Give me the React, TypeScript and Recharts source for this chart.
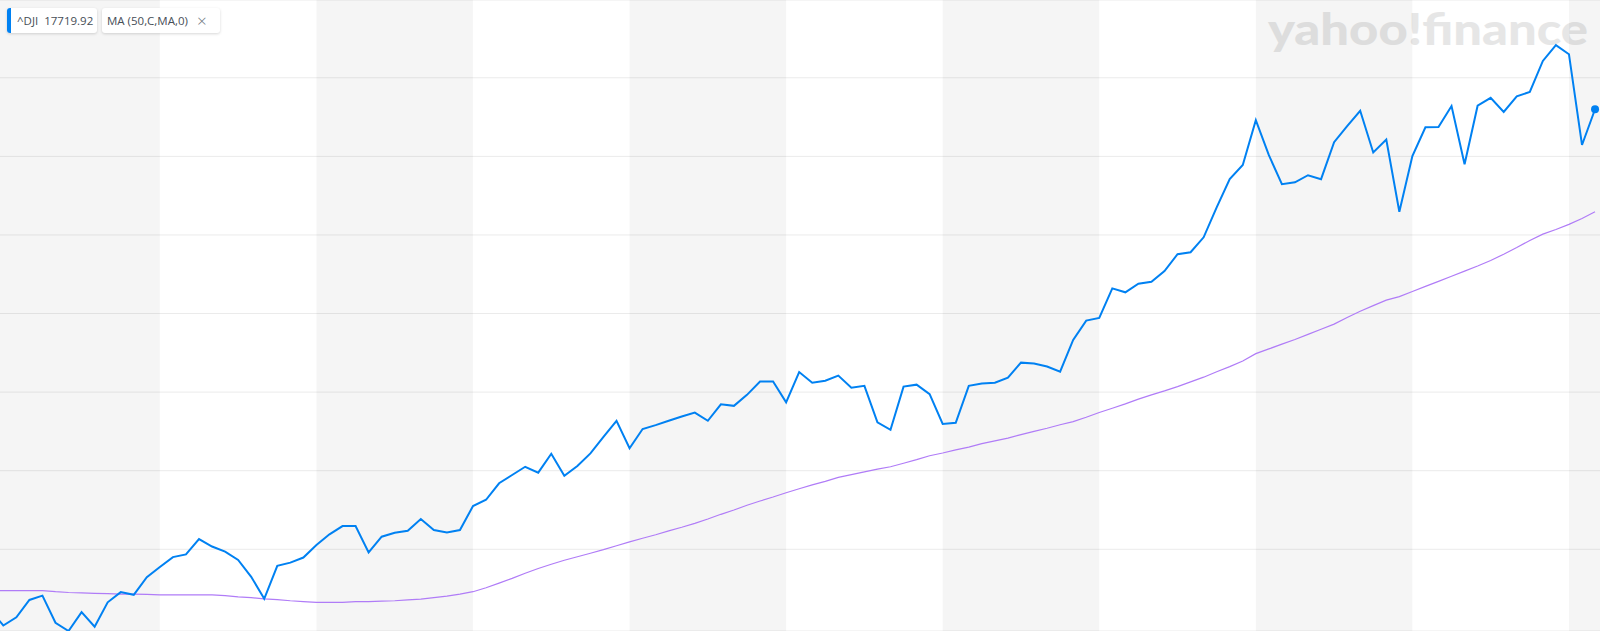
import React from 'react';
import { CartesianGrid, Customized, Line, LineChart, ReferenceArea, XAxis, YAxis } from 'recharts';

// ^DJI closes, one per bar (index 0 sits just left of the visible area)
const djiClose = [
  16446, 16406, 16427, 16471, 16482, 16413, 16392, 16440, 16403, 16465,
  16491, 16484, 16529, 16555, 16580, 16587, 16626, 16607, 16594, 16573,
  16530, 16474, 16558, 16566, 16579, 16611, 16638, 16659, 16659, 16592,
  16632, 16642, 16647, 16677, 16649, 16643, 16649, 16710, 16726, 16768,
  16789, 16810, 16795, 16843, 16787, 16812, 16844, 16886, 16927, 16857,
  16906, 16916, 16927, 16938, 16948, 16927, 16969, 16965, 16993, 17027,
  17027, 16974, 17051, 17024, 17029, 17042, 17011, 17016, 16923, 16904,
  17014, 17019, 16995, 16919, 16922, 17016, 17022, 17024, 17037, 17075,
  17073, 17065, 17052, 17133, 17182, 17189, 17264, 17254, 17276, 17281,
  17308, 17351, 17356, 17394, 17470, 17542, 17578, 17692, 17603, 17529,
  17534, 17552, 17542, 17636, 17677, 17716, 17610, 17643, 17459, 17601,
  17674, 17675, 17728, 17580, 17729, 17749, 17713, 17753, 17764, 17843,
  17883, 17860, 17629, 17719.92,
];

// MA (50,C,MA,0)
const ma50 = [
  16495, 16495, 16495, 16495, 16495, 16492, 16490, 16489, 16488, 16487,
  16486, 16486, 16485, 16484, 16484, 16484, 16484, 16484, 16482, 16479,
  16477, 16474, 16472, 16469, 16467, 16465, 16465, 16465, 16467, 16467,
  16468, 16469, 16471, 16473, 16477, 16481, 16486, 16492, 16502, 16514,
  16526, 16539, 16551, 16562, 16572, 16581, 16590, 16599, 16609, 16619,
  16628, 16637, 16647, 16656, 16666, 16677, 16689, 16700, 16712, 16723,
  16733, 16744, 16754, 16764, 16773, 16783, 16790, 16797, 16804, 16810,
  16819, 16828, 16838, 16845, 16853, 16860, 16869, 16876, 16883, 16892,
  16900, 16908, 16917, 16925, 16936, 16948, 16959, 16970, 16982, 16993,
  17003, 17014, 17026, 17038, 17052, 17065, 17079, 17098, 17110, 17122,
  17134, 17147, 17160, 17173, 17190, 17206, 17220, 17234, 17243, 17256,
  17269, 17282, 17295, 17308, 17321, 17335, 17351, 17368, 17386, 17402,
  17414, 17427, 17442, 17459,
];

// price grid lines
const priceTicks = [16400, 16600, 16800, 17000, 17200, 17400, 17600, 17800];

// shaded period bands, in bar index units
const shadedBands: [number, number][] = [
  [0.747, 13], [25, 37], [49, 61], [73, 85], [97, 109], [121, 123.38],
];

const data = djiClose.map((close, i) => ({ i, close, ma: ma50[i] }));
const lastIndex = data.length - 1;

const chipStyle: React.CSSProperties = {
  position: 'absolute',
  top: 8,
  height: 25,
  background: '#fff',
  borderRadius: 3,
  boxShadow: '0 1px 3px rgba(0,0,0,0.16)',
  fontFamily: '"Open Sans", sans-serif',
  fontSize: 11.5,
  color: '#464e56',
  display: 'flex',
  alignItems: 'center',
  whiteSpace: 'nowrap',
};

const Watermark = () => (
  <text
    x={1268}
    y={45}
    textAnchor="start"
    fontFamily="Lato, sans-serif"
    fontWeight={900}
    fontSize={44}
    fill="#e6e6e6"
    textLength={320}
    lengthAdjust="spacingAndGlyphs"
  >
    yahoo!finance
  </text>
);

const LastDot = (props: any) => {
  const { cx, cy, index } = props;
  if (index !== lastIndex) return null;
  return <circle cx={cx} cy={cy} r={4} fill="#0081f2" />;
};

export default function App() {
  return (
    <div style={{ position: 'absolute', left: 0, top: 0, width: 1600, height: 631, background: '#fff', overflow: 'hidden' }}>
      <LineChart width={1600} height={631} data={data} margin={{ top: 0, right: 0, bottom: 0, left: 0 }}>
        <XAxis type="number" dataKey="i" domain={[0.747, 123.38]} allowDataOverflow hide />
        <YAxis type="number" domain={[16392, 17998]} ticks={priceTicks} allowDataOverflow hide />
        <CartesianGrid vertical={false} stroke="#ebebeb" />
        <Customized component={Watermark} />
        {shadedBands.map(([a, b]) => (
          <ReferenceArea key={a} x1={a} x2={b} fill="#000" fillOpacity={0.04} stroke="none" ifOverflow="hidden" />
        ))}
        <Line
          type="linear"
          dataKey="ma"
          stroke="#b07cf7"
          strokeWidth={1.2}
          dot={false}
          activeDot={false}
          isAnimationActive={false}
        />
        <Line
          type="linear"
          dataKey="close"
          stroke="#0081f2"
          strokeWidth={2}
          dot={<LastDot />}
          activeDot={false}
          isAnimationActive={false}
        />
      </LineChart>

      <div style={{ ...chipStyle, left: 7, width: 90, overflow: 'hidden' }}>
        <div style={{ width: 4, height: '100%', background: '#0081f2' }} />
        <span style={{ marginLeft: 6 }}>^DJI&nbsp;&nbsp;17719.92</span>
      </div>
      <div style={{ ...chipStyle, left: 102, width: 118 }}>
        <span style={{ marginLeft: 5 }}>MA (50,C,MA,0)</span>
        <span style={{ marginLeft: 9, color: '#6f7780', fontSize: 17, fontWeight: 300, lineHeight: '25px' }}>×</span>
      </div>
    </div>
  );
}
